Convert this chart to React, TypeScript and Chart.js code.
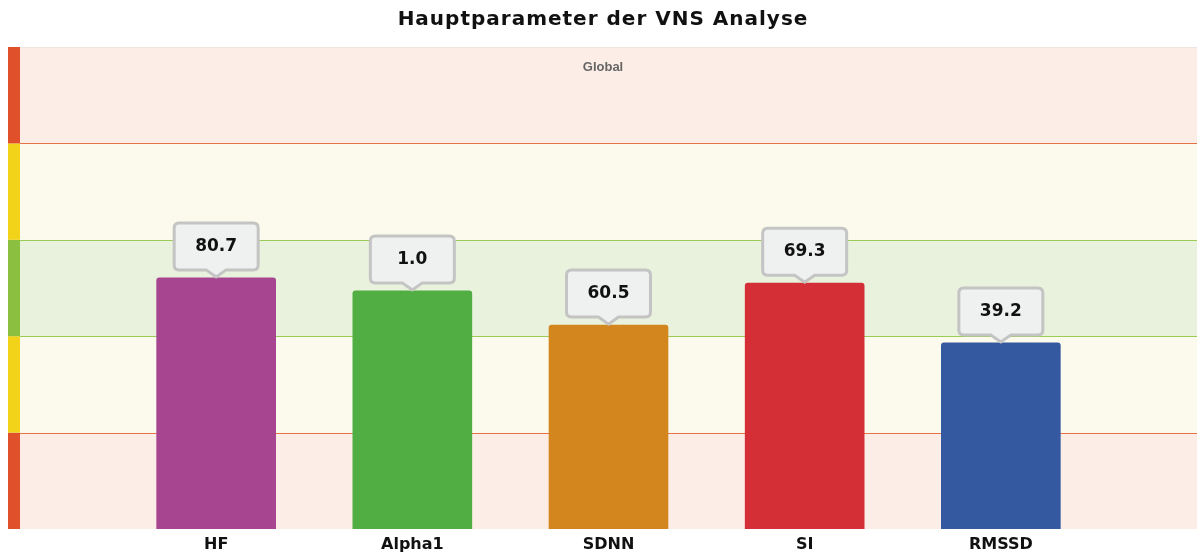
import React, { useEffect, useRef } from "react";
import { Chart, registerables } from "chart.js";

Chart.register(...registerables);

const titleText = "Hauptparameter der VNS Analyse";
const categories = ["HF", "Alpha1", "SDNN", "SI", "RMSSD"];
const barLevels = [52.1, 49.4, 42.3, 51.0, 38.6];
const valueLabels = ["80.7", "1.0", "60.5", "69.3", "39.2"];
const barColors = ["#A84590", "#50AE42", "#D3861E", "#D42F37", "#3559A0"];
const bandEdges = [0, 20, 40, 60, 80, 100];
const bandFills = ["#FCEEE6", "#FCFAEC", "#E8F2DD", "#FCFAEC", "#FCEEE6"];
const stripColors = ["#E0502A", "#F2D31A", "#8BBF3F", "#F2D31A", "#E0502A"];
const bandLines = [
  { v: 20, c: "#E27445" },
  { v: 40, c: "#98CC55" },
  { v: 60, c: "#98CC55" },
  { v: 80, c: "#E27445" },
];

const WIDE = "'DejaVu Sans', Verdana, sans-serif";
const ARIAL = "'Liberation Sans', Arial, sans-serif";

const bandsPlugin = {
  id: "bands",
  beforeDatasetsDraw(chart: any) {
    const { ctx, chartArea } = chart;
    const y = chart.scales.y;
    ctx.save();
    for (let i = 0; i < bandFills.length; i++) {
      const top = y.getPixelForValue(bandEdges[i + 1]);
      const bot = y.getPixelForValue(bandEdges[i]);
      ctx.fillStyle = bandFills[i];
      ctx.fillRect(chartArea.left, top, chartArea.right - chartArea.left, bot - top);
      ctx.fillStyle = stripColors[i];
      ctx.fillRect(8, top, chartArea.left - 8, bot - top);
    }
    for (const l of bandLines) {
      const py = Math.round(y.getPixelForValue(l.v));
      ctx.fillStyle = l.c;
      ctx.fillRect(chartArea.left, py, chartArea.right - chartArea.left, 1);
    }
    ctx.fillStyle = "#EEE4E0";
    ctx.fillRect(chartArea.left, chartArea.top, chartArea.right - chartArea.left, 1);
    ctx.fillStyle = "#666666";
    ctx.font = `bold 13px ${ARIAL}`;
    ctx.textAlign = "center";
    ctx.textBaseline = "middle";
    ctx.fillText("Global", 603, chartArea.top + 20);
    // title
    ctx.fillStyle = "#111111";
    ctx.font = `bold 20px ${WIDE}`;
    (ctx as any).letterSpacing = "1px";
    ctx.fillText(titleText, 603, 20);
    (ctx as any).letterSpacing = "0px";
    ctx.restore();
  },
};

const calloutPlugin = {
  id: "callouts",
  afterDatasetsDraw(chart: any) {
    const { ctx } = chart;
    const meta = chart.getDatasetMeta(0);
    ctx.save();
    meta.data.forEach((el: any, i: number) => {
      const label = valueLabels[i - 1];
      if (label === undefined || el.skip) return;
      const cx = el.x;
      const tip = el.y;
      const w = 84, h = 47, r = 5, gap = 8, tw = 10;
      const bottom = tip - gap;
      const top = bottom - h;
      const left = cx - w / 2, right = cx + w / 2;
      ctx.beginPath();
      ctx.moveTo(left + r, top);
      ctx.lineTo(right - r, top);
      ctx.quadraticCurveTo(right, top, right, top + r);
      ctx.lineTo(right, bottom - r);
      ctx.quadraticCurveTo(right, bottom, right - r, bottom);
      ctx.lineTo(cx + tw, bottom);
      ctx.lineTo(cx, tip - 1);
      ctx.lineTo(cx - tw, bottom);
      ctx.lineTo(left + r, bottom);
      ctx.quadraticCurveTo(left, bottom, left, bottom - r);
      ctx.lineTo(left, top + r);
      ctx.quadraticCurveTo(left, top, left + r, top);
      ctx.closePath();
      ctx.fillStyle = "#EFF0F0";
      ctx.fill();
      ctx.strokeStyle = "#C4C4C4";
      ctx.lineWidth = 3;
      ctx.stroke();
      ctx.fillStyle = "#111111";
      ctx.font = `bold 17px ${WIDE}`;
      ctx.textAlign = "center";
      ctx.textBaseline = "middle";
      ctx.fillText(label, cx, top + h / 2);
    });
    ctx.restore();
  },
};

export default function App() {
  const ref = useRef<HTMLCanvasElement>(null);
  useEffect(() => {
    if (!ref.current) return;
    const labels = ["", ...categories, ""];
    const data = [null, ...barLevels, null];
    const colors = ["#000", ...barColors, "#000"];
    const chart = new Chart(ref.current, {
      type: "bar",
      data: {
        labels,
        datasets: [
          {
            data,
            backgroundColor: colors,
            barThickness: 119,
            borderRadius: { topLeft: 3, topRight: 3, bottomLeft: 0, bottomRight: 0 },
            borderSkipped: false,
          } as any,
        ],
      },
      options: {
        animation: false,
        responsive: false,
        maintainAspectRatio: false,
        layout: { padding: { left: 20, right: 2, top: 47, bottom: 0 } },
        plugins: {
          legend: { display: false },
          tooltip: { enabled: false },
          title: { display: false },
        },
        scales: {
          x: {
            type: "category",
            offset: false,
            grid: { display: false, drawTicks: false },
            border: { display: false },
            ticks: {
              autoSkip: false,
              maxRotation: 0,
              padding: 0,
              color: "#111111",
              font: { family: WIDE, size: 16, weight: "bold", lineHeight: 2 },
            },
            afterFit(scale: any) {
              scale.height = 26;
            },
          },
          y: {
            display: false,
            min: 0,
            max: 100,
          },
        },
      },
      plugins: [bandsPlugin, calloutPlugin],
    });
    return () => chart.destroy();
  }, []);
  return (
    <div style={{ position: "fixed", left: 0, top: 0, width: 1199, height: 555, background: "#fff" }}>
      <canvas ref={ref} width={1199} height={555} style={{ width: 1199, height: 555, display: "block" }} />
    </div>
  );
}
